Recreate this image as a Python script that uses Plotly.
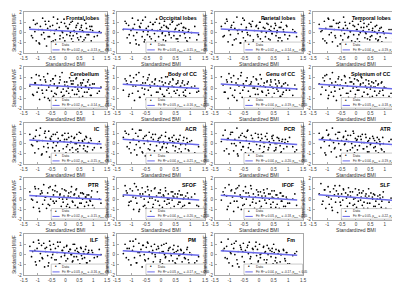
import plotly.graph_objects as go

W, H = 400, 282

titles = ["Frontal lobes", "Occipital lobes", "Parietal lobes", "Temporal lobes",
          "Cerebellum", "Body of CC", "Genu of CC", "Splenium of CC",
          "IC", "ACR", "PCR", "ATR",
          "PTR", "SFOF", "IFOF", "SLF",
          "ILF", "PM", "Fm"]
r2 = ["0.02", "0.03", "0.02", "0.04", "0.02", "0.03", "0.04", "0.03", "0.02", "0.04",
      "0.04", "0.04", "0.02", "0.04", "0.03", "0.05", "0.03", "0.03", "0.04"]
rho = ["-0.13", "-0.15", "-0.14", "-0.19", "-0.14", "-0.16", "-0.19", "-0.18", "-0.15", "-0.21",
       "-0.20", "-0.19", "-0.15", "-0.20", "-0.18", "-0.22", "-0.16", "-0.17", "-0.17"]
pval = ["> 0.1", "> 0.1", "> 0.1", "< 0.05", "> 0.1", "< 0.05", "< 0.05", "< 0.05", "< 0.1", "< 0.05",
        "< 0.05", "< 0.05", "> 0.1", "< 0.05", "< 0.05", "< 0.05", "> 0.1", "< 0.05", "< 0.05"]

bmi = [-1.28, -1.22, -1.15, -1.10, -1.05, -1.02, -0.97, -0.93, -0.90, -0.86,
       -0.82, -0.78, -0.75, -0.71, -0.68, -0.64, -0.60, -0.57, -0.53, -0.50,
       -0.46, -0.43, -0.40, -0.36, -0.33, -0.30, -0.26, -0.22, -0.19, -0.15,
       -0.12, -0.08, -0.05, -0.02, 0.02, 0.05, 0.08, 0.12, 0.15, 0.18,
       0.22, 0.25, 0.28, 0.31, 0.35, 0.38, 0.41, 0.45, 0.48, 0.52,
       0.55, 0.58, 0.62, 0.65, 0.69, 0.72, 0.76, 0.80, 0.84, 0.88,
       0.93, 0.98, 1.15, 1.28,
       -1.18, -1.08, -0.95, -0.84, -0.73, -0.62, -0.55, -0.44, -0.38, -0.28,
       -0.20, -0.10, -0.03, 0.04, 0.10, 0.16, 0.20, 0.27, 0.33, 0.40,
       0.44, 0.50, 0.57, 0.61, 0.67, 0.74, 0.78, 0.83, 0.90, 0.95,
       1.04, 1.22]

mwf_frontal = [0.5, -0.3, 1.2, 0.1, -0.8, 0.9, 0.3, -1.1, 0.6, -0.2, 1.4, 0.0, -0.6, 0.8, -1.3, 0.4, 1.1, -0.4, 0.2, -0.9, 0.7, 1.5, -0.1, -0.7, 0.3, 0.9, -1.2, 0.5, -0.3, 1.0, 0.1, -0.5, 1.3, -0.8, 0.6, -0.2, 0.4, -1.0, 0.8, 0.0, -0.6, 1.1, -0.3, 0.2, -1.4, 0.5, -0.1, 0.9, -0.7, 0.3, -0.4, 0.7, -0.9, 0.1, 1.2, -0.5, 0.4, -1.1, -0.2, 0.6, -0.8, 0.2, -0.3, 0.0,
               -0.5, 0.8, -1.0, 0.3, 1.1, -0.4, 0.6, -0.8, 0.2, 1.3, -0.6, 0.0, 0.9, -1.2, 0.4, -0.3, 1.0, -0.9, 0.1, 0.7, -0.5, -1.1, 0.5, 0.2, -0.7, 0.9, -0.2, -1.0, 0.3, 0.6, -0.4, 0.1]
mwf_occipital = [0.3, 1.1, -0.5, 0.7, -1.0, 0.2, 1.4, -0.3, 0.8, -0.7, 0.0, 1.2, -1.2, 0.5, 0.9, -0.4, 0.1, -0.9, 1.5, 0.4, -0.2, 0.6, -1.3, 1.0, -0.6, 0.3, 0.8, -0.1, -0.8, 1.3, 0.2, -0.4, 0.9, -1.1, 0.5, 0.0, -0.7, 1.1, -0.3, 0.6, -1.0, 0.4, -0.2, 0.8, -0.5, 1.0, -1.4, 0.1, 0.3, -0.6, 0.7, -0.9, 0.2, -0.3, 0.9, -1.2, 0.5, -0.1, 0.4, -0.8, 0.1, -0.5, 0.6, -0.2,
                 0.9, -0.2, 0.4, -1.1, 0.6, 1.2, -0.7, 0.1, -0.4, 0.8, 1.0, -1.2, 0.3, -0.1, 0.7, -0.8, 0.5, 0.0, -1.0, 1.1, -0.3, 0.4, -0.6, 0.8, -1.3, 0.2, 0.5, -0.5, -0.9, 0.3, 0.0, -0.7]
mwf_parietal = [0.6, -0.4, 0.9, 1.3, -0.9, 0.2, -0.2, 0.7, -1.2, 1.0, 0.4, -0.6, 1.5, -0.1, 0.3, -1.0, 0.8, 0.1, -0.5, 1.2, -0.8, 0.5, 0.0, -1.3, 0.9, -0.3, 0.6, 1.1, -0.7, 0.2, -1.1, 0.7, -0.2, 0.4, 1.0, -0.6, 0.1, -0.9, 0.5, 1.3, -0.4, 0.0, -1.2, 0.8, 0.3, -0.7, 0.6, -0.1, -1.5, 0.4, 0.9, -0.3, 0.2, -0.8, 0.5, -0.5, 1.0, -1.0, 0.1, -0.2, 0.7, -0.6, 0.3, -0.4,
                -0.3, 1.1, 0.5, -0.7, 0.2, -1.0, 1.4, 0.3, -0.2, 0.8, -0.9, 0.6, -0.4, 1.0, 0.1, -1.2, 0.4, 0.9, -0.6, 0.2, -0.1, -1.1, 0.7, 0.0, -0.5, 0.5, -0.8, 0.3, -1.2, 0.6, -0.3, 0.1]
mwf_temporal = [0.8, 0.1, -0.6, 1.1, 0.4, -1.0, 1.4, -0.2, 0.6, 0.0, -0.9, 1.2, 0.3, -0.5, 0.9, -1.3, 0.5, 1.0, -0.3, 0.2, -0.7, 1.5, -0.1, 0.7, -1.1, 0.4, -0.4, 0.9, 0.1, -0.8, 1.1, -0.2, 0.6, -1.2, 0.3, -0.6, 0.8, -0.9, 0.0, 0.5, -1.4, 0.2, 0.9, -0.5, -0.1, 0.6, -1.0, 0.3, -0.7, 1.0, -0.3, 0.4, -1.2, 0.1, -0.6, 0.7, -0.8, 0.2, -0.4, 0.5, -1.0, -0.1, 0.3, -0.6,
                0.2, -0.8, 1.3, 0.6, -0.3, 0.9, -1.1, 0.4, 1.0, -0.5, 0.1, 0.7, -0.9, 0.3, -0.2, 1.1, -1.3, 0.5, 0.0, -0.6, 0.8, -0.4, 0.2, -1.0, 0.6, -0.1, -0.7, 0.4, -0.9, 0.1, -0.5, 0.3]
mwf_cerebellum = [0.2, 1.0, -0.7, 0.5, 1.3, -0.4, 0.0, -1.1, 0.8, 0.3, -0.5, 1.1, -0.9, 0.6, -0.2, 1.4, 0.1, -1.2, 0.7, -0.3, 0.9, -0.8, 0.4, 1.2, -0.6, 0.0, -1.0, 0.5, 0.8, -0.4, 1.5, -0.1, -0.7, 0.3, -1.3, 0.6, 0.2, -0.5, 1.0, -0.9, 0.4, -0.2, 0.7, -1.1, 0.1, 0.9, -0.6, 0.3, -0.3, -1.4, 0.5, 0.0, -0.8, 0.8, -0.4, 0.2, -1.0, 0.6, -0.1, 0.3, -0.7, 0.4, -0.5, 0.1,
                  -0.6, 0.5, 1.2, -0.2, 0.8, -1.0, 0.3, 0.9, -0.5, 0.1, 1.1, -0.8, 0.6, -0.3, 0.0, -1.2, 0.7, 0.4, -0.6, 1.0, -0.1, -0.9, 0.3, 0.5, -1.1, 0.2, -0.4, 0.8, -0.7, 0.0, 0.4, -0.3]
mwf_body_cc = [-0.2, 0.9, 0.4, -0.8, 1.2, 0.6, -0.5, 1.0, -1.2, 0.2, 0.7, -0.3, 1.5, -0.9, 0.3, 0.0, 1.1, -0.6, 0.5, -1.1, 0.8, -0.2, 1.3, 0.1, -0.7, 0.6, -1.3, 0.4, 0.9, -0.4, 0.2, -1.0, 0.7, -0.1, 1.0, -0.6, 0.3, -0.8, 0.5, -1.4, 1.1, 0.0, -0.5, 0.6, -0.9, 0.2, 0.8, -0.3, -1.1, 0.4, -0.2, 0.7, -0.7, 0.1, -1.0, 0.5, -0.4, 0.3, -0.8, 0.0, 0.6, -0.5, 0.2, -0.3,
               0.7, -0.6, 0.2, 1.3, -0.9, 0.5, -0.1, 1.0, 0.3, -1.2, 0.8, -0.4, 0.0, 0.6, -0.8, 1.1, -0.2, 0.4, -1.1, 0.9, 0.1, -0.5, 0.5, -1.0, 0.2, 0.7, -0.7, -0.2, 0.4, -1.2, 0.1, -0.4]
mwf_genu_cc = [1.1, 0.3, -0.4, 0.8, -1.0, 1.4, 0.0, 0.6, -0.7, 1.2, -0.2, 0.5, -1.2, 0.9, 0.2, -0.5, 1.5, -0.9, 0.4, 0.1, -1.1, 0.7, 1.0, -0.3, 0.3, -0.8, 0.6, -1.3, 1.1, 0.0, -0.6, 0.8, -0.1, 0.4, -1.0, 0.2, 0.9, -0.4, -1.2, 0.5, 0.1, -0.7, 0.7, -0.2, -1.4, 0.3, 0.6, -0.9, 0.0, -0.5, 0.8, -1.1, 0.2, -0.3, 0.5, -0.8, 0.1, -0.6, 0.4, -1.0, -0.2, 0.3, -0.7, -0.1,
               -0.4, 0.6, 1.0, -0.9, 0.3, 1.2, -0.2, 0.7, -1.1, 0.4, 0.0, 0.9, -0.6, 1.3, -0.3, 0.2, -1.0, 0.6, -0.5, 0.8, 0.1, -1.2, 0.4, -0.1, 0.7, -0.8, 0.2, -0.4, 0.5, -1.0, -0.2, 0.3]
mwf_splenium_cc = [0.4, -0.6, 1.0, 0.7, -0.2, 1.3, -1.0, 0.2, 0.9, -0.4, 1.5, -0.8, 0.1, 0.6, -1.2, 0.3, 1.1, -0.1, -0.7, 0.8, 0.0, -1.1, 1.2, 0.5, -0.5, 0.2, -0.9, 1.0, -0.3, 0.6, -1.3, 0.4, 0.9, -0.6, 0.1, -0.2, 0.7, -1.0, 0.3, 1.1, -0.8, 0.5, -0.4, -1.2, 0.8, 0.0, -0.6, 0.4, -0.9, 0.2, 0.6, -1.4, 0.1, -0.3, 0.7, -0.7, 0.3, -0.5, -1.0, 0.5, -0.2, 0.1, -0.8, 0.0,
                   0.1, 1.2, -0.7, 0.5, -0.3, 0.9, 0.3, -1.0, 1.1, -0.5, 0.6, 0.0, -0.9, 0.8, -0.2, 0.4, 1.0, -1.3, 0.2, -0.6, 0.7, -0.1, -0.8, 0.5, 0.1, -1.1, 0.4, -0.3, 0.6, -0.7, 0.0, -0.5]
mwf_ic = [0.9, -0.1, 0.5, -0.9, 1.3, 0.2, -0.5, 0.8, 1.5, -1.1, 0.3, -0.3, 1.0, 0.6, -0.8, 0.0, 1.2, -1.3, 0.4, 0.7, -0.4, 0.1, -1.0, 0.9, -0.2, 1.1, 0.5, -0.7, 0.3, -1.2, 0.8, -0.5, 0.2, 1.0, -0.9, 0.4, -0.1, 0.6, -1.1, 0.1, 0.7, -0.4, -1.4, 0.5, 0.0, -0.6, 0.9, -0.8, 0.3, -0.2, 1.0, -1.0, 0.2, -0.5, 0.4, -0.7, 0.6, -0.3, 0.1, -1.2, 0.3, -0.6, 0.0, -0.4,
          -0.2, 0.7, 0.3, -1.0, 1.2, -0.4, 0.5, 0.9, -0.7, 0.1, -1.2, 0.8, 0.4, -0.3, 1.0, -0.6, 0.2, -0.9, 0.6, 0.0, -0.5, 1.1, -1.1, 0.3, -0.2, 0.7, -0.8, 0.1, 0.5, -1.0, -0.4, 0.2]
mwf_acr = [0.6, 1.2, -0.3, 0.9, 0.1, -0.9, 1.4, 0.4, -0.6, 1.0, -1.1, 0.7, 0.2, -0.4, 1.3, -0.8, 0.5, 0.0, -1.2, 0.8, 0.3, -0.5, 1.1, -0.1, 0.6, -1.0, 0.4, -0.7, 0.9, -0.2, -1.3, 0.5, 0.1, -0.6, 0.8, -0.3, 0.2, -1.1, 0.7, -0.4, 0.0, -0.9, 0.5, 0.3, -1.5, 0.6, -0.2, 0.1, -0.7, 0.4, -1.0, 0.2, -0.5, 0.8, -0.8, 0.0, 0.3, -1.2, -0.1, 0.5, -0.6, 0.2, -0.9, -0.3,
           1.0, -0.5, 0.4, -0.1, 1.3, -0.9, 0.7, 0.2, -0.6, 0.9, -1.1, 0.3, 0.6, -0.4, 0.0, 1.1, -0.8, 0.5, -1.2, 0.2, 0.8, -0.3, -0.9, 0.4, -0.1, -1.3, 0.6, -0.5, 0.1, -0.7, 0.3, -1.0]
mwf_pcr = [0.2, 0.8, 1.3, -0.5, 0.5, -1.0, 0.9, 0.0, 1.1, -0.7, 0.4, -0.2, 1.5, -1.2, 0.6, 0.1, -0.6, 1.0, -0.3, 0.7, -0.9, 0.3, 1.2, -0.4, 0.0, -1.3, 0.8, 0.5, -0.8, 0.2, 1.0, -0.1, -1.1, 0.6, -0.5, 0.3, 0.9, -0.9, 0.1, -0.3, 0.7, -1.2, 0.4, -0.6, 0.2, -0.1, -1.4, 0.5, 0.8, -0.7, 0.0, -0.4, 0.6, -1.0, 0.3, -0.2, -0.8, 0.4, -0.5, 0.1, -1.1, 0.2, -0.3, -0.6,
           -0.7, 0.4, 1.1, 0.0, -1.0, 0.8, -0.3, 0.6, 1.3, -0.6, 0.2, -1.1, 0.9, -0.2, 0.5, -0.8, 0.1, 1.0, -0.4, -1.2, 0.7, 0.3, -0.6, 0.0, 0.5, -0.9, 0.2, -1.1, 0.4, -0.3, 0.6, -0.8]
mwf_atr = [1.0, -0.4, 0.6, 0.2, -1.1, 1.3, 0.8, -0.2, 0.4, -0.8, 1.5, 0.1, -0.5, 0.9, -1.3, 0.5, 0.0, 1.1, -0.6, 0.3, -1.0, 0.7, -0.1, 1.2, 0.4, -0.7, 0.2, -1.2, 0.8, 0.0, -0.4, 1.0, -0.9, 0.5, 0.3, -0.6, 0.7, -0.2, -1.1, 0.4, 0.9, -0.5, 0.1, -1.4, 0.6, -0.3, 0.2, -0.8, 0.5, 0.0, -1.0, 0.7, -0.4, 0.3, -0.7, 0.1, -1.2, 0.4, -0.1, -0.5, 0.6, -0.8, 0.2, -0.3,
           0.5, -0.9, 0.9, 0.3, -0.4, 1.1, -1.2, 0.6, 0.0, 0.8, -0.6, 1.2, -0.2, 0.4, -1.0, 0.7, 0.1, -0.5, 0.9, -0.8, 0.3, -0.1, -1.1, 0.5, -0.3, 0.6, -0.9, 0.2, -0.6, 0.0, -1.0, 0.4]
mwf_ptr = [0.7, 0.0, -0.8, 1.2, 0.3, -0.3, 1.0, -1.2, 0.5, 0.8, -0.5, 1.4, -0.1, 0.2, -0.9, 0.6, 1.1, -0.6, 0.0, -1.1, 0.9, 0.4, -0.4, 1.3, -0.2, 0.7, -1.3, 0.1, 0.5, -0.7, 1.0, -0.3, 0.3, -1.0, 0.8, 0.0, -0.5, 0.6, -0.8, 0.2, 1.2, -0.2, -1.2, 0.4, -0.6, 0.9, 0.1, -0.9, 0.3, -0.4, 0.6, -1.1, 0.0, 0.5, -0.7, 0.2, -0.3, -1.0, 0.4, -0.1, 0.2, -0.6, 0.7, -0.4,
           -0.1, 1.0, -0.9, 0.6, 0.2, -0.5, 1.2, -0.2, 0.8, -1.1, 0.4, 0.0, 0.9, -0.7, 0.3, -1.2, 0.7, -0.3, 0.5, 1.0, -0.8, 0.1, -0.4, 0.6, -1.0, 0.2, 0.4, -0.6, -0.2, 0.8, -0.9, 0.0]
mwf_sfof = [0.3, 1.3, 0.6, -0.6, 1.0, -0.2, 0.8, -1.0, 1.5, 0.1, -0.4, 0.9, -1.2, 0.5, 0.2, 1.1, -0.7, 0.0, 0.7, -0.9, 1.2, -0.3, 0.4, -1.3, 0.8, 0.1, -0.5, 1.0, -0.1, 0.3, -1.1, 0.6, -0.6, 0.9, 0.2, -0.8, 0.4, -0.2, 1.1, -1.0, 0.0, 0.5, -0.4, -1.4, 0.7, -0.1, 0.3, -0.7, 0.5, -1.2, 0.2, -0.5, 0.8, -0.3, -0.9, 0.4, 0.0, -0.6, 0.3, -1.0, 0.1, -0.4, 0.5, -0.7,
            0.8, -0.3, 0.2, 1.2, -1.0, 0.5, -0.6, 0.9, 0.1, -0.8, 1.1, -0.2, 0.6, -1.2, 0.3, 0.8, -0.5, 0.0, -0.9, 0.7, 0.2, -1.1, 0.5, -0.3, 0.4, -0.7, 0.1, -1.0, 0.6, -0.4, 0.2, -0.6]
mwf_ifof = [-0.1, 0.7, 1.1, 0.3, -0.7, 1.4, -0.4, 0.9, 0.2, -1.2, 0.6, 1.0, -0.2, -0.8, 1.3, 0.4, -1.0, 0.1, 0.8, -0.5, 1.2, 0.0, -1.3, 0.6, 0.3, -0.6, 1.0, -0.3, 0.5, -0.9, 0.2, 0.9, -1.1, 0.4, -0.2, 0.7, -0.7, 0.1, -1.0, 0.6, 0.3, -0.4, 1.0, -1.3, 0.0, 0.5, -0.8, 0.2, -0.3, 0.8, -1.1, 0.4, -0.5, 0.1, -0.9, 0.6, -0.2, 0.3, -0.7, -1.0, 0.2, -0.4, 0.0, -0.6,
            0.4, -1.0, 0.8, -0.2, 1.1, 0.2, -0.6, 0.6, -1.2, 1.3, 0.0, -0.4, 0.7, -0.9, 0.3, 0.9, -0.1, -1.1, 0.5, -0.5, 0.8, 0.1, -0.8, 0.4, -1.3, 0.6, -0.2, 0.3, -0.7, 0.0, -0.4, 0.5]
mwf_slf = [0.5, 1.5, -0.2, 0.9, -0.9, 0.3, 1.2, -0.5, 0.7, 0.0, -1.1, 1.0, 0.4, -0.3, 0.8, -1.3, 0.2, 1.3, -0.6, 0.5, -0.1, 0.9, -1.0, 0.6, 0.1, -0.7, 1.1, -0.4, 0.3, -1.2, 0.7, 0.0, -0.5, 1.0, -0.8, 0.4, -0.2, 0.6, -1.1, 0.2, -0.6, 0.8, -0.3, -1.4, 0.5, 0.1, -0.9, 0.3, -0.4, 0.6, -1.2, 0.0, -0.7, 0.4, -0.2, -1.0, 0.3, -0.5, 0.1, -0.8, 0.2, -1.1, -0.3, -0.6,
           -0.5, 0.9, 0.2, -0.8, 1.3, 0.5, -0.3, 1.0, -1.0, 0.4, 0.7, -0.6, 0.1, -1.2, 0.9, -0.1, 0.6, -0.9, 0.3, -0.4, 1.0, -1.1, 0.2, 0.5, -0.7, 0.0, -1.3, 0.4, -0.2, 0.7, -0.9, 0.1]
mwf_ilf = [0.8, -0.2, 1.2, 0.4, -1.0, 0.6, 1.4, -0.6, 0.1, 0.9, -0.4, 1.1, -1.2, 0.3, 0.7, -0.1, -0.8, 1.3, 0.5, -0.3, 0.0, 1.0, -1.1, 0.6, -0.5, 0.2, 0.8, -0.9, 1.2, -0.2, 0.4, -1.3, 0.7, 0.1, -0.6, 0.9, -0.4, 0.3, -1.0, 0.5, 0.0, -0.7, 1.0, -0.2, 0.4, -1.2, 0.6, -0.5, 0.2, -0.9, 0.7, -0.1, -1.4, 0.3, -0.3, 0.5, -0.8, 0.1, 0.4, -0.6, -1.0, 0.2, -0.2, 0.0,
           0.3, -0.7, 1.1, -0.3, 0.6, -1.1, 0.9, 0.2, -0.5, 1.2, -0.9, 0.4, -0.1, 0.8, -1.3, 0.5, 0.0, -0.6, 1.0, -0.2, 0.3, -1.0, 0.6, -0.4, 0.1, 0.8, -0.8, 0.2, -1.1, 0.4, -0.3, 0.5]
mwf_pm = [0.1, 1.0, 0.6, -0.5, 1.3, -1.0, 0.4, 0.8, -0.3, 1.5, -0.8, 0.2, 1.1, -0.1, 0.5, -1.2, 0.9, 0.0, -0.6, 0.7, 1.2, -0.4, 0.3, -1.1, 0.8, 0.1, -0.7, 1.0, -0.2, 0.5, -1.3, 0.6, 0.2, -0.5, 0.9, -0.9, 0.3, 0.0, -0.3, 1.1, -1.0, 0.4, -0.6, 0.7, -0.1, -1.2, 0.5, 0.2, -0.8, 0.3, -0.4, 0.8, -1.1, 0.0, 0.4, -0.7, 0.1, -0.3, -1.0, 0.5, -0.5, 0.2, -0.8, -0.2,
          -0.3, 0.6, 1.3, -0.8, 0.2, 0.9, -0.5, 1.1, -1.1, 0.4, 0.0, 0.8, -0.7, 0.3, 1.0, -0.2, -1.2, 0.6, 0.1, -0.6, 0.9, -0.9, 0.4, -0.1, 0.5, -1.0, 0.2, -0.4, 0.7, -0.8, 0.0, -0.6]
mwf_fm = [1.2, 0.4, -0.3, 0.8, 1.5, -0.8, 0.2, 1.0, -1.1, 0.6, 0.0, 1.3, -0.5, 0.3, -1.2, 0.9, 0.5, -0.2, 1.1, -0.7, 0.4, -1.0, 0.7, 0.1, 1.2, -0.4, -0.9, 0.6, 0.2, -1.3, 0.8, -0.1, 0.5, -0.6, 1.0, -0.3, 0.1, -1.1, 0.7, -0.5, 0.3, -0.8, 0.9, 0.0, -1.4, 0.4, -0.2, 0.6, -0.9, 0.2, -0.6, 0.5, -1.0, 0.1, 0.3, -0.7, 0.0, -1.2, 0.4, -0.4, 0.2, -0.9, -0.1, 0.3,
          0.6, -0.4, 0.1, 1.1, -0.9, 0.7, 0.3, -1.2, 0.9, -0.2, 0.5, 1.2, -0.7, 0.0, -1.0, 0.8, 0.2, -0.5, 0.6, -1.1, 0.3, 1.0, -0.3, -0.8, 0.4, 0.0, -1.2, 0.5, -0.6, 0.2, -0.9, 0.1]

mwf = [mwf_frontal, mwf_occipital, mwf_parietal, mwf_temporal,
       mwf_cerebellum, mwf_body_cc, mwf_genu_cc, mwf_splenium_cc,
       mwf_ic, mwf_acr, mwf_pcr, mwf_atr,
       mwf_ptr, mwf_sfof, mwf_ifof, mwf_slf,
       mwf_ilf, mwf_pm, mwf_fm]

# fitted line end values (at BMI = -1.3 and BMI = 1.3)
fit_x = [-1.3, 1.3]
fit_left = [0.32, 0.35, 0.34, 0.40, 0.34, 0.36, 0.40, 0.38, 0.35, 0.42,
            0.41, 0.40, 0.35, 0.41, 0.38, 0.43, 0.36, 0.37, 0.37]
fit_right = [-0.01, -0.03, -0.02, -0.09, -0.02, -0.05, -0.09, -0.08, -0.03, -0.11,
             -0.10, -0.09, -0.03, -0.10, -0.08, -0.12, -0.05, -0.06, -0.06]

xticks = [-1.5, -1, -0.5, 0, 0.5, 1, 1.5]
xticktext = ["-1.5", "-1", "-0.5", "0", "0.5", "1", "1.5"]
yticks = [-2, -1, 0, 1, 2]
yticktext = ["-2", "-1", "0", "1", "2"]

FONT = "Liberation Sans, Arial, sans-serif"
BLUE = "rgb(105,105,235)"
fig = go.Figure()
annotations = []
shapes = []
layout = {}

for i in range(19):
    r, c = divmod(i, 4)
    left = 12 if c == 0 else 107 + 100 * (c - 1)
    right = 97 + 100 * c if c < 3 else 395
    top = 2 + 56.5 * r
    bot = 44 + 56.5 * r
    sfx = "" if i == 0 else str(i + 1)
    xa, ya = "x" + sfx, "y" + sfx
    fig.add_trace(go.Scatter(x=bmi, y=mwf[i], mode="markers",
                             marker=dict(color="black", size=1.7),
                             xaxis=xa, yaxis=ya, showlegend=False, hoverinfo="skip"))
    fig.add_trace(go.Scatter(x=fit_x, y=[fit_left[i], fit_right[i]], mode="lines",
                             line=dict(color=BLUE, width=1.5),
                             xaxis=xa, yaxis=ya, showlegend=False, hoverinfo="skip"))
    common = dict(showgrid=False, zeroline=False, showline=True, mirror=True,
                  linecolor="#a8a8a8", linewidth=1, ticks="inside", ticklen=2,
                  tickcolor="#a8a8a8", tickfont=dict(size=4.5, color="#404040", family=FONT))
    layout["xaxis" + sfx] = dict(domain=[left / W, right / W], anchor=ya, range=[-1.5, 1.5],
                                 tickvals=xticks, ticktext=xticktext,
                                 title=dict(text="Standardized BMI", standoff=1,
                                            font=dict(size=5, color="#303030", family=FONT)),
                                 **common)
    layout["yaxis" + sfx] = dict(domain=[1 - bot / H, 1 - top / H], anchor=xa, range=[-2, 2],
                                 tickvals=yticks, ticktext=yticktext,
                                 title=dict(text="Standardized MWF", standoff=1,
                                            font=dict(size=4.5, color="#303030", family=FONT)),
                                 **common)
    xd, yd = xa + " domain", ya + " domain"
    annotations.append(dict(text="<b>" + titles[i] + "</b>", xref=xd, yref=yd, x=0.93, y=0.97,
                            xanchor="right", yanchor="top", showarrow=False,
                            font=dict(size=5.3, color="black", family=FONT)))
    # legend box
    shapes.append(dict(type="rect", xref=xd, yref=yd, x0=0.33, x1=0.995, y0=0.015, y1=0.27,
                       line=dict(color="#a8a8a8", width=0.6), fillcolor="white", layer="above"))
    annotations.append(dict(text="•", xref=xd, yref=yd, x=0.385, y=0.2, xanchor="center",
                            yanchor="middle", showarrow=False,
                            font=dict(size=4.5, color="black", family=FONT)))
    annotations.append(dict(text="Data", xref=xd, yref=yd, x=0.44, y=0.2, xanchor="left",
                            yanchor="middle", showarrow=False,
                            font=dict(size=3.3, color="#202020", family=FONT)))
    shapes.append(dict(type="line", xref=xd, yref=yd, x0=0.345, x1=0.43, y0=0.08, y1=0.08,
                       line=dict(color=BLUE, width=1), layer="above"))
    fit_txt = ("Fit: R<sup>2</sup> = " + r2[i] + ", ρ<sub>BMI</sub> = " + rho[i] +
               ", p<sub>BMI</sub> " + pval[i])
    annotations.append(dict(text=fit_txt, xref=xd, yref=yd, x=0.44, y=0.08, xanchor="left",
                            yanchor="middle", showarrow=False,
                            font=dict(size=3.0, color="#202020", family=FONT)))

fig.update_layout(width=W, height=H, margin=dict(l=0, r=0, t=0, b=0),
                  paper_bgcolor="white", plot_bgcolor="white",
                  annotations=annotations, shapes=shapes, **layout)
fig.write_html("out.html")
